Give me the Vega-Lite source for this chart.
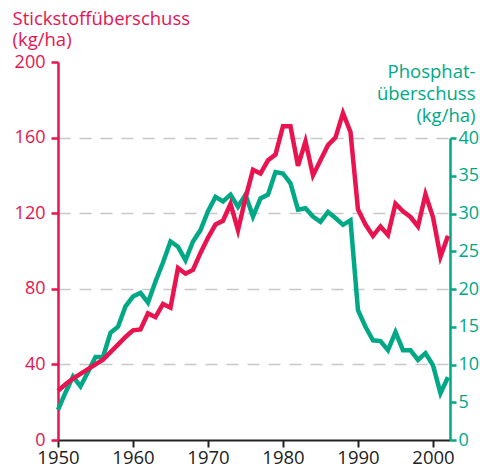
{
  "$schema": "https://vega.github.io/schema/vega-lite/v6.json",
  "width": 392,
  "height": 378,
  "autosize": {"type": "none"},
  "padding": {"left": 58, "top": 62, "right": 30, "bottom": 33},
  "background": "white",
  "config": {"view": {"stroke": null}, "font": "Open Sans"},
  "data": {"values": [
    {"year": 1950, "N": 26, "P": 4.0},
    {"year": 1951, "N": 29.5, "P": 6.3},
    {"year": 1952, "N": 32.5, "P": 8.4},
    {"year": 1953, "N": 35, "P": 7.1},
    {"year": 1954, "N": 37.5, "P": 9.0},
    {"year": 1955, "N": 40, "P": 11.0},
    {"year": 1956, "N": 42.5, "P": 11.0},
    {"year": 1957, "N": 46.5, "P": 14.2},
    {"year": 1958, "N": 50.5, "P": 15.0},
    {"year": 1959, "N": 54.5, "P": 17.7},
    {"year": 1960, "N": 58, "P": 19.0},
    {"year": 1961, "N": 58.5, "P": 19.5},
    {"year": 1962, "N": 67, "P": 18.2},
    {"year": 1963, "N": 65, "P": 21.0},
    {"year": 1964, "N": 72, "P": 23.5},
    {"year": 1965, "N": 70, "P": 26.3},
    {"year": 1966, "N": 91, "P": 25.6},
    {"year": 1967, "N": 88, "P": 23.8},
    {"year": 1968, "N": 90, "P": 26.3},
    {"year": 1969, "N": 99, "P": 27.8},
    {"year": 1970, "N": 107, "P": 30.3},
    {"year": 1971, "N": 114, "P": 32.2},
    {"year": 1972, "N": 116, "P": 31.6},
    {"year": 1973, "N": 125, "P": 32.5},
    {"year": 1974, "N": 111, "P": 30.9},
    {"year": 1975, "N": 128, "P": 32.5},
    {"year": 1976, "N": 143, "P": 29.6},
    {"year": 1977, "N": 141, "P": 32.0},
    {"year": 1978, "N": 148, "P": 32.5},
    {"year": 1979, "N": 151, "P": 35.5},
    {"year": 1980, "N": 166, "P": 35.3},
    {"year": 1981, "N": 166, "P": 34.0},
    {"year": 1982, "N": 145, "P": 30.5},
    {"year": 1983, "N": 158, "P": 30.7},
    {"year": 1984, "N": 140, "P": 29.6},
    {"year": 1985, "N": 148, "P": 28.9},
    {"year": 1986, "N": 156, "P": 30.2},
    {"year": 1987, "N": 160, "P": 29.4},
    {"year": 1988, "N": 173, "P": 28.5},
    {"year": 1989, "N": 163, "P": 29.1},
    {"year": 1990, "N": 122, "P": 17.2},
    {"year": 1991, "N": 114, "P": 15.0},
    {"year": 1992, "N": 108, "P": 13.2},
    {"year": 1993, "N": 113, "P": 13.1},
    {"year": 1994, "N": 108.5, "P": 11.9},
    {"year": 1995, "N": 125, "P": 14.3},
    {"year": 1996, "N": 121, "P": 11.9},
    {"year": 1997, "N": 118, "P": 11.9},
    {"year": 1998, "N": 113, "P": 10.6},
    {"year": 1999, "N": 130, "P": 11.5},
    {"year": 2000, "N": 118, "P": 9.9},
    {"year": 2001, "N": 97, "P": 6.2},
    {"year": 2002, "N": 108, "P": 8.3}
  ]},
  "encoding": {
    "x": {
      "field": "year", "type": "quantitative",
      "scale": {"domain": [1950, 2002.27], "nice": false, "zero": false},
      "axis": {
        "values": [1950, 1960, 1970, 1980, 1990, 2000], "format": "d",
        "labelFlush": false, "labelOverlap": false,
        "domainColor": "#222222", "domainWidth": 2,
        "tickColor": "#222222", "tickWidth": 2, "tickSize": 7,
        "labelColor": "#222222", "labelFontSize": 18.5, "labelPadding": 1,
        "title": null, "grid": false
      }
    }
  },
  "layer": [
    {
      "mark": {"type": "line", "color": "#00a886", "strokeWidth": 4.5},
      "encoding": {
        "y": {
          "field": "P", "type": "quantitative",
          "scale": {"domain": [0, 40], "range": [378, 76], "nice": false},
          "axis": {
            "orient": "right", "values": [0, 5, 10, 15, 20, 25, 30, 35, 40],
            "domainColor": "#00a886", "domainWidth": 2.5,
            "tickColor": "#00a886", "tickWidth": 2.5, "tickSize": 6,
            "labelColor": "#00a886", "labelFontSize": 18, "labelPadding": 2,
            "grid": false,
            "title": ["Phosphat-", "überschuss", "(kg/ha)"],
            "titleColor": "#00a886", "titleFontSize": 18.5, "titleFontWeight": "normal",
            "titleAngle": 0, "titleAlign": "right", "titleBaseline": "top",
            "titleX": 25, "titleY": 0, "titleLineHeight": 22
          }
        }
      }
    },
    {
      "mark": {"type": "line", "color": "#e8134f", "strokeWidth": 4.5},
      "encoding": {
        "y": {
          "field": "N", "type": "quantitative",
          "scale": {"domain": [0, 200], "nice": false},
          "axis": {
            "orient": "left", "values": [0, 40, 80, 120, 160, 200],
            "domainColor": "#e8134f", "domainWidth": 2.5,
            "tickColor": "#e8134f", "tickWidth": 2.5, "tickSize": 7,
            "labelColor": "#e8134f", "labelFontSize": 18, "labelPadding": 6,
            "grid": true, "gridColor": "#c8c8c8", "gridWidth": 1.5, "gridDash": [12, 9],
            "gridOpacity": {"condition": {"test": "datum.value === 0 || datum.value === 200", "value": 0}, "value": 1},
            "title": ["Stickstoffüberschuss", "(kg/ha)"],
            "titleColor": "#e8134f", "titleFontSize": 18.5, "titleFontWeight": "normal",
            "titleAngle": 0, "titleAlign": "left", "titleBaseline": "top",
            "titleX": -46, "titleY": -53, "titleLineHeight": 21
          }
        }
      }
    }
  ],
  "resolve": {"scale": {"y": "independent"}}
}
